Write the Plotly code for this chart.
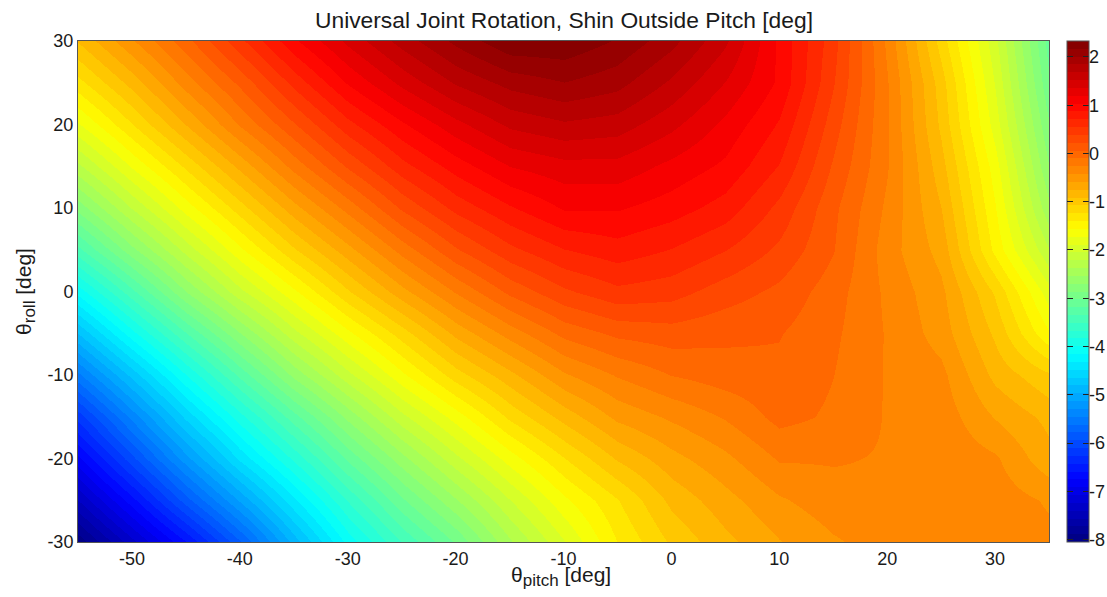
import plotly.graph_objects as go

# Independent axes
theta_pitch = [-55, -50, -45, -40, -35, -30, -25, -20, -15, -10, -5, 0, 5, 10, 15, 20, 25, 30, 35]
theta_roll = [30, 25, 20, 15, 10, 5, 0, -5, -10, -15, -20, -25, -30]

# Values, one list per roll row [deg]
roll_p30 = [-0.9, -0.45, 0.0, 0.5, 1.0, 1.4, 1.75, 2.05, 2.3, 2.3, 2.15, 1.9, 1.55, 1.0, 0.45, -0.3, -1.15, -2.0, -3.1]
roll_p25 = [-1.3, -0.85, -0.35, 0.1, 0.6, 1.05, 1.4, 1.7, 1.9, 2.0, 1.9, 1.65, 1.35, 1.0, 0.4, -0.25, -1.0, -1.9, -3.0]
roll_p20 = [-1.75, -1.25, -0.75, -0.25, 0.2, 0.65, 1.0, 1.3, 1.55, 1.65, 1.6, 1.4, 1.15, 0.85, 0.3, -0.25, -0.95, -1.8, -2.85]
roll_p15 = [-2.25, -1.7, -1.2, -0.7, -0.2, 0.25, 0.65, 0.95, 1.2, 1.3, 1.3, 1.15, 1.0, 0.7, 0.2, -0.25, -0.85, -1.65, -2.7]
roll_p10 = [-2.8, -2.2, -1.65, -1.15, -0.65, -0.2, 0.25, 0.6, 0.85, 1.05, 1.05, 0.95, 0.8, 0.5, 0.1, -0.3, -0.75, -1.55, -2.5]
roll_p05 = [-3.4, -2.75, -2.15, -1.6, -1.1, -0.65, -0.2, 0.2, 0.5, 0.7, 0.8, 0.7, 0.55, 0.35, 0.07, -0.35, -0.65, -1.45, -2.2]
roll_00 = [-4.1, -3.4, -2.7, -2.1, -1.6, -1.1, -0.65, -0.25, 0.1, 0.35, 0.5, 0.45, 0.3, 0.18, -0.03, -0.3, -0.55, -1.1, -1.82]
roll_m05 = [-4.8, -4.05, -3.35, -2.7, -2.1, -1.6, -1.15, -0.7, -0.35, -0.05, 0.1, 0.15, 0.1, 0.07, -0.07, -0.28, -0.5, -0.95, -1.55]
roll_m10 = [-5.5, -4.75, -4.0, -3.3, -2.65, -2.1, -1.6, -1.15, -0.8, -0.45, -0.25, -0.1, -0.02, 0.02, -0.1, -0.28, -0.38, -0.8, -1.05]
roll_m15 = [-6.2, -5.4, -4.6, -3.9, -3.25, -2.65, -2.1, -1.65, -1.2, -0.85, -0.55, -0.4, -0.25, -0.05, -0.13, -0.28, -0.33, -0.6, -0.8]
roll_m20 = [-6.8, -6.0, -5.2, -4.45, -3.8, -3.15, -2.6, -2.1, -1.65, -1.25, -0.9, -0.65, -0.47, -0.25, -0.25, -0.28, -0.3, -0.4, -0.7]
roll_m25 = [-7.4, -6.65, -5.85, -5.1, -4.35, -3.65, -3.05, -2.55, -2.05, -1.6, -1.25, -0.87, -0.65, -0.45, -0.33, -0.28, -0.28, -0.33, -0.45]
roll_m30 = [-8.0, -7.3, -6.6, -5.8, -4.9, -4.1, -3.5, -3.0, -2.4, -1.9, -1.4, -1.05, -0.8, -0.6, -0.45, -0.35, -0.3, -0.3, -0.38]

rotation = [roll_p30, roll_p25, roll_p20, roll_p15, roll_p10, roll_p05, roll_00,
            roll_m05, roll_m10, roll_m15, roll_m20, roll_m25, roll_m30]

x_ticks = [-50, -40, -30, -20, -10, 0, 10, 20, 30]
y_ticks = [-30, -20, -10, 0, 10, 20, 30]
cbar_ticks = [-8, -7, -6, -5, -4, -3, -2, -1, 0, 1, 2]
c_min, c_max = -8.05, 2.33


def jet_rgb(t):
    def ramp(c):
        return max(0.0, min(1.0, 1.5 - abs(4 * t - c)))
    r, g, b = ramp(3), ramp(2), ramp(1)
    return f"rgb({round(r * 255)},{round(g * 255)},{round(b * 255)})"


# MATLAB's 64-step jet, as hard-edged bands
LEVELS = 64
jet = []
for i in range(LEVELS):
    colour = jet_rgb((i + 0.5) / LEVELS)
    jet.append([i / LEVELS, colour])
    jet.append([(i + 1) / LEVELS, colour])

FONT = "Liberation Sans"
INK = "#1a1a1a"
FRAME = "#555555"
TICK_SIZE = 18
CBAR_X = (1067 - 78) / 971


def labels(values):
    return [str(v) for v in values]


def bar_geometry(thickness):
    return dict(x=CBAR_X, xanchor="left", xpad=0, y=0.5, yanchor="middle", ypad=0,
                len=1, lenmode="fraction", thickness=thickness, thicknessmode="pixels",
                tickmode="array", tickvals=cbar_ticks)


def tick_overlay(thickness, **extra):
    """Transparent scale laid over the colour bar, for what a single bar cannot place."""
    return go.Heatmap(
        x=[-55, -50], y=[-30, -25], z=[[c_min, c_max], [c_min, c_max]],
        zmin=c_min, zmax=c_max, hoverinfo="skip",
        colorscale=[[0, "rgba(0,0,0,0)"], [1, "rgba(0,0,0,0)"]],
        colorbar=dict(**bar_geometry(thickness), outlinewidth=0, **extra),
    )


fig = go.Figure()
fig.add_trace(go.Heatmap(
    x=theta_pitch, y=theta_roll, z=rotation,
    zmin=c_min, zmax=c_max, colorscale=jet, zsmooth="best",
    colorbar=dict(
        **bar_geometry(22), showticklabels=False,
        ticks="inside", ticklen=6, tickwidth=1, tickcolor="#222222",
        outlinecolor=FRAME, outlinewidth=1,
    ),
))
# Left-edge tick marks of the colour bar
fig.add_trace(tick_overlay(6, showticklabels=False, ticks="inside", ticklen=6,
                           tickwidth=1, tickcolor="#222222"))
# Colour bar labels, set tight against the bar
fig.add_trace(tick_overlay(18, ticks="", ticktext=labels(cbar_ticks),
                           tickfont=dict(family=FONT, size=TICK_SIZE, color=INK)))

fig.update_layout(
    width=1107, height=597,
    margin=dict(l=78, r=58, t=41, b=55, autoexpand=False),
    paper_bgcolor="white", plot_bgcolor="white",
    font=dict(family=FONT, color=INK),
    title=dict(text="Universal Joint Rotation, Shin Outside Pitch [deg]",
               x=564 / 1107, xanchor="center", y=1 - 20 / 597, yanchor="middle",
               font=dict(family=FONT, size=22.8, color=INK)),
    xaxis=dict(range=[-55, 35], tickmode="array", tickvals=x_ticks, ticktext=labels(x_ticks), ticks="",
               tickfont=dict(size=TICK_SIZE), showgrid=False, zeroline=False,
               showline=True, mirror=True, linecolor=FRAME, linewidth=1, automargin=False),
    yaxis=dict(range=[-30, 30], tickmode="array", tickvals=y_ticks, ticktext=labels(y_ticks), ticks="",
               tickfont=dict(size=TICK_SIZE), showgrid=False, zeroline=False,
               showline=True, mirror=True, linecolor=FRAME, linewidth=1, automargin=False,
               title=dict(text='θ<sub><span style="font-size:17px">roll</span></sub> [deg]',
                          standoff=10, font=dict(size=21))),
    annotations=[dict(text='θ<sub><span style="font-size:17px">pitch</span></sub> [deg]',
                      xref="paper", yref="paper", x=(561 - 78) / 971, y=-34 / 501,
                      xanchor="center", yanchor="middle", showarrow=False,
                      font=dict(family=FONT, size=21, color=INK))],
)

fig.write_html("out.html", config={"displayModeBar": False},
               post_script="document.body.style.margin='0';")
